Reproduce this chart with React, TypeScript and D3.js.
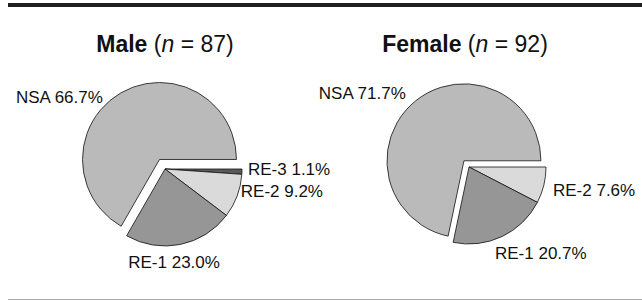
import React from 'react';
import * as d3 from 'd3';

// data
const categories = ['RE-3', 'RE-2', 'RE-1', 'NSA'];
const groups = ['Male', 'Female'];
const groupN = [87, 92];
const maleValues = [1.1, 9.2, 23.0, 66.7];
const femaleValues = [null, 7.6, 20.7, 71.7];
const seriesValues = [maleValues, femaleValues];

// layout
const W = 642;
const H = 301;
const R = 77;
const pieCenters = [[165, 169], [469, 167]];
const titleX = [165, 465];
const explodeDist = [11, 8];
const colors: Record<string, string> = {
  'RE-3': '#5a5a5a',
  'RE-2': '#dadada',
  'RE-1': '#969696',
  NSA: '#bababa',
};
// label placement: [angle in degrees (clockwise from 12 o'clock), distance from center, anchor]
const labelPlacement: Record<string, [number, number, string]>[] = [
  { 'RE-3': [89.7, 83, 'start'], 'RE-2': [106.4, 79, 'start'], 'RE-1': [174.4, 93, 'middle'], NSA: [317.6, 84, 'end'] },
  { 'RE-2': [105.1, 87, 'start'], 'RE-1': [140.1, 112, 'middle'], NSA: [319.2, 89, 'end'] },
];
const font = '"Liberation Sans", Arial, Helvetica, sans-serif';

const pie = d3.pie<any>()
  .sort(null)
  .value((d: any) => d.value)
  .startAngle(Math.PI / 2)
  .endAngle(Math.PI / 2 + Math.PI * 2);
const arc = d3.arc<any>().innerRadius(0).outerRadius(R);

const PieGroup = ({ gi }: { gi: number }) => {
  const rows = categories
    .map((c, i) => ({ cat: c, value: seriesValues[gi][i] }))
    .filter(d => d.value != null && d.value > 0);
  const arcs = pie(rows);
  const [cx, cy] = pieCenters[gi];
  return (
    <g>
      <text x={titleX[gi]} y={52} textAnchor="middle" fontSize={23} fontFamily={font} fill="#111">
        <tspan fontWeight="bold">{groups[gi]}</tspan>
        <tspan> (</tspan>
        <tspan fontStyle="italic">n</tspan>
        <tspan> = {groupN[gi]})</tspan>
      </text>
      {arcs.map(a => {
        const mid = (a.startAngle + a.endAngle) / 2;
        const off = a.data.cat === 'NSA' ? explodeDist[gi] : 0;
        const ox = cx + Math.sin(mid) * off;
        const oy = cy - Math.cos(mid) * off;
        const [ang, dist, anchor] = labelPlacement[gi][a.data.cat];
        const t = (ang * Math.PI) / 180;
        const lx = ox + Math.sin(t) * dist;
        const ly = oy - Math.cos(t) * dist;
        return (
          <g key={a.data.cat}>
            <path
              d={arc(a) as string}
              transform={`translate(${ox},${oy})`}
              fill={colors[a.data.cat]}
              stroke="#111"
              strokeWidth={0.8}
              strokeLinejoin="miter"
            />
            <text x={lx} y={ly} dy="0.35em" textAnchor={anchor} fontSize={17} fontFamily={font} fill="#111">
              {`${a.data.cat} ${a.data.value.toFixed(1)}%`}
            </text>
          </g>
        );
      })}
    </g>
  );
};

export default function App() {
  return (
    <svg
      width={W}
      height={H}
      viewBox={`0 0 ${W} ${H}`}
      style={{ position: 'absolute', left: 0, top: 0, background: '#fff' }}
    >
      <rect x={8} y={3} width={W - 8} height={4} fill="#231f20" />
      <PieGroup gi={0} />
      <PieGroup gi={1} />
      <line x1={8} x2={W} y1={299.5} y2={299.5} stroke="#aaa" strokeWidth={1} />
    </svg>
  );
}
